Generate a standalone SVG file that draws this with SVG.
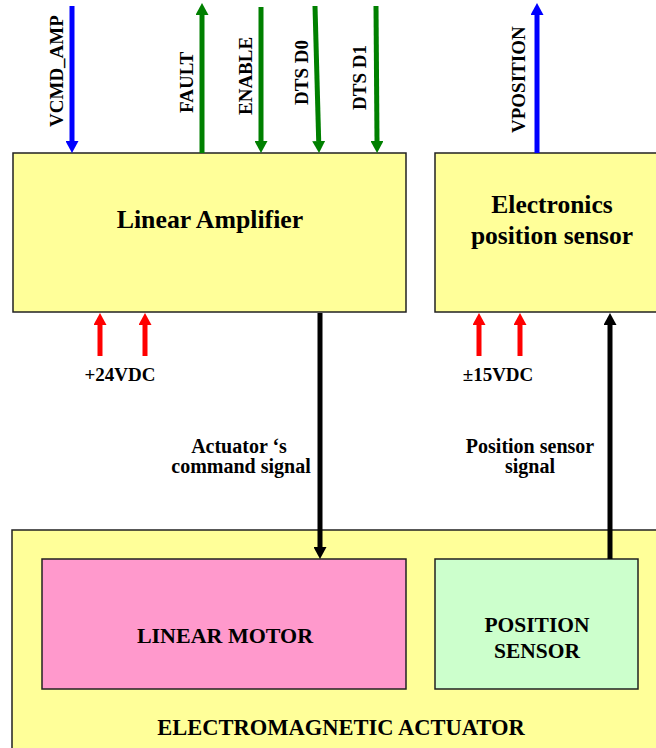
<svg xmlns="http://www.w3.org/2000/svg" width="656" height="748" viewBox="0 0 656 748">
<style>
  text { font-family: "Liberation Serif", "Times New Roman", serif; font-weight: bold; fill: #000; }
  .box { stroke: #222; stroke-width: 1.5; }
  .yel { fill: #ffff99; }
  .pink { fill: #ff99cc; }
  .grn { fill: #ccffcc; }
  .w { stroke-width: 5; fill: none; }
  .lbl { font-size: 19px; }
  .sig { font-size: 20px; text-anchor: middle; }
</style>
<defs>
  <marker id="hG" viewBox="0 0 12 13" refX="0" refY="6.5" markerWidth="12" markerHeight="13" markerUnits="userSpaceOnUse" orient="auto"><path d="M0,0 L12,6.5 L0,13 z" fill="#008000"/></marker>
  <marker id="hB" viewBox="0 0 12 13" refX="0" refY="6.5" markerWidth="12" markerHeight="13" markerUnits="userSpaceOnUse" orient="auto"><path d="M0,0 L12,6.5 L0,13 z" fill="#0000ff"/></marker>
  <marker id="hR" viewBox="0 0 12 13" refX="0" refY="6.5" markerWidth="12" markerHeight="13" markerUnits="userSpaceOnUse" orient="auto"><path d="M0,0 L12,6.5 L0,13 z" fill="#ff0000"/></marker>
  <marker id="hK" viewBox="0 0 12 13" refX="0" refY="6.5" markerWidth="12" markerHeight="13" markerUnits="userSpaceOnUse" orient="auto"><path d="M0,0 L12,6.5 L0,13 z" fill="#000"/></marker>
</defs>

<g id="actuator">
  <rect class="box yel" x="12" y="530" width="650" height="230"/>
  <text x="341" y="735" font-size="22.5" text-anchor="middle">ELECTROMAGNETIC ACTUATOR</text>
</g>
<g id="linear-motor">
  <rect class="box pink" x="42" y="559" width="364" height="130"/>
  <text x="225" y="643" font-size="22" text-anchor="middle">LINEAR MOTOR</text>
</g>
<g id="position-sensor">
  <rect class="box grn" x="435" y="559" width="203" height="130"/>
  <text x="537" y="632" font-size="21.5" text-anchor="middle">POSITION</text>
  <text x="537" y="658" font-size="21.5" text-anchor="middle">SENSOR</text>
</g>
<g id="linear-amplifier">
  <rect class="box yel" x="13" y="153" width="393" height="159"/>
  <text x="210" y="228" font-size="25.8" text-anchor="middle">Linear Amplifier</text>
</g>
<g id="electronics-position-sensor">
  <rect class="box yel" x="435" y="153" width="230" height="159"/>
  <text x="552" y="213" font-size="25.5" text-anchor="middle">Electronics</text>
  <text x="552" y="244" font-size="25.5" text-anchor="middle">position sensor</text>
</g>

<g id="connectors">
  <line class="w" stroke="#0000ff" x1="72" y1="6" x2="72" y2="141" marker-end="url(#hB)"/>
  <line class="w" stroke="#008000" x1="202" y1="153" x2="202" y2="15" marker-end="url(#hG)"/>
  <line class="w" stroke="#008000" x1="261" y1="7" x2="261" y2="141" marker-end="url(#hG)"/>
  <line class="w" stroke="#008000" x1="315" y1="6" x2="318.7" y2="141" marker-end="url(#hG)"/>
  <line class="w" stroke="#008000" x1="376" y1="6" x2="377" y2="141" marker-end="url(#hG)"/>
  <line class="w" stroke="#0000ff" x1="537" y1="153" x2="537" y2="15" marker-end="url(#hB)"/>
  <line class="w" stroke="#ff0000" x1="100" y1="356" x2="100" y2="325" marker-end="url(#hR)"/>
  <line class="w" stroke="#ff0000" x1="145" y1="356" x2="145" y2="325" marker-end="url(#hR)"/>
  <line class="w" stroke="#ff0000" x1="479" y1="356" x2="479" y2="325" marker-end="url(#hR)"/>
  <line class="w" stroke="#ff0000" x1="520" y1="356" x2="520" y2="325" marker-end="url(#hR)"/>
  <line class="w" stroke="#000" x1="320" y1="313" x2="320" y2="547" marker-end="url(#hK)"/>
  <line class="w" stroke="#000" x1="610" y1="559" x2="610" y2="325" marker-end="url(#hK)"/>
</g>

<g id="labels">
  <text class="lbl" transform="translate(63,127) rotate(-90)">VCMD_AMP</text>
  <text class="lbl" transform="translate(193,113) rotate(-90)">FAULT</text>
  <text class="lbl" transform="translate(252,115) rotate(-90)">ENABLE</text>
  <text class="lbl" transform="translate(308,105) rotate(-90)">DTS D0</text>
  <text class="lbl" transform="translate(366,110) rotate(-90)">DTS D1</text>
  <text class="lbl" transform="translate(525,133) rotate(-90)">VPOSITION</text>
  <text x="120" y="381" font-size="19" text-anchor="middle">+24VDC</text>
  <text x="498" y="381" font-size="19" text-anchor="middle">±15VDC</text>
  <text class="sig" x="239" y="453">Actuator ‘s</text>
  <text class="sig" x="241" y="473">command signal</text>
  <text class="sig" x="530" y="453">Position sensor</text>
  <text class="sig" x="530" y="473">signal</text>
</g>
</svg>
